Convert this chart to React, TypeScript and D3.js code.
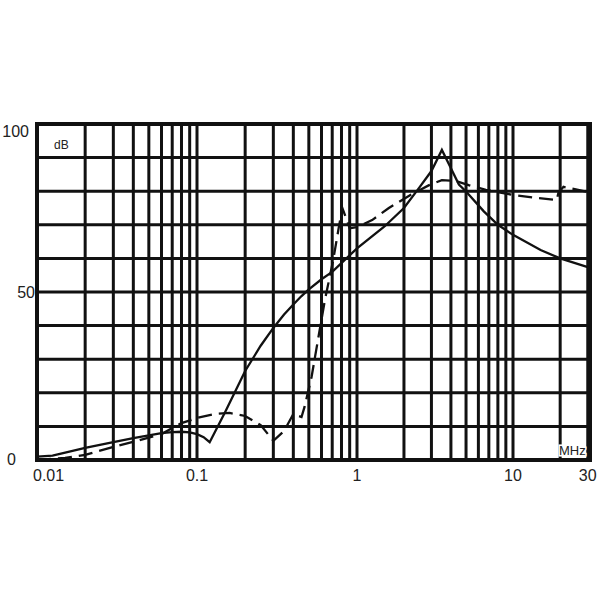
import React from "react";
import * as d3 from "d3";

// solid curve
const solidFreq = [0.01, 0.0125, 0.015, 0.02, 0.03, 0.04, 0.05, 0.06, 0.07, 0.08, 0.09, 0.1, 0.11, 0.12, 0.15, 0.2, 0.25, 0.3, 0.35, 0.4, 0.45, 0.5, 0.6, 0.7, 1, 1.5, 2, 2.5, 3, 3.5, 4, 4.5, 5, 6.5, 8, 10, 15, 20, 30];
const solidDb = [1, 1.3, 2.2, 3.6, 5.3, 6.5, 7.3, 8.0, 8.3, 8.4, 8.2, 7.7, 6.8, 5.3, 14.3, 26.5, 34, 39.3, 43.3, 46.3, 48.8, 50.8, 53.8, 56, 63, 69.5, 75, 81, 86, 92.3, 86.8, 82, 79.9, 74, 70, 67, 62.5, 60, 57.4];

// dashed curve
const dashFreq = [0.01, 0.015, 0.02, 0.03, 0.04, 0.06, 0.08, 0.1, 0.13, 0.16, 0.2, 0.25, 0.3, 0.35, 0.4, 0.45, 0.47, 0.52, 0.58, 0.63, 0.71, 0.77, 0.81, 0.85, 0.9, 1, 1.25, 1.6, 2.2, 2.9, 3.5, 4.3, 5.2, 6.7, 10, 14, 19, 19.5, 21, 30];
const dashDb = [0, 0.6, 1.5, 3.9, 5.4, 7.7, 11, 12.5, 13.7, 14, 13.1, 10.4, 5.7, 8.6, 13.7, 12.8, 15.8, 24.7, 37.8, 47.6, 59.5, 69.3, 75, 72.3, 69, 69.3, 71.4, 75, 78.9, 81.8, 83.3, 83, 81.8, 80.4, 78.9, 78, 77.4, 79.5, 81.3, 79.8];

const xTickValues = [0.01, 0.1, 1, 10, 30];
const xTickLabels = ["0.01", "0.1", "1", "10", "30"];
const yTickValues = [0, 50, 100];
const yTickLabels = ["0", "50", "100"];

const left = 37, right = 590, top = 124, bottom = 460;
const font = "'Liberation Sans', Arial, sans-serif";

const App = () => {
  // decades are not quite equal in the drawing, so piecewise log
  const x = d3.scaleLog().domain([0.01, 0.1, 1, 10, 31]).range([left, 197, 357, 513, right]);
  const y = d3.scaleLinear().domain([0, 100]).range([bottom, top]);

  // vertical grid: 1..9 per decade, up to 30
  const gridX: number[] = [];
  [0.01, 0.1, 1, 10].forEach((d) => {
    for (let m = 1; m <= 9; m++) {
      const f = +(m * d).toPrecision(3);
      if (f <= 30) gridX.push(f);
    }
  });
  const gridY = d3.range(0, 101, 10);

  const mk = d3.line<[number, number]>()
    .x((d) => x(d[0]))
    .y((d) => y(d[1]));
  const solidPath = mk(solidFreq.map((f, i) => [f, solidDb[i]]));
  const dashPath = mk(dashFreq.map((f, i) => [f, dashDb[i]]));

  // y label offsets to follow the drawing
  const yLabelX: Record<string, number> = { "0": 16, "50": 35, "100": 29 };
  const yLabelDy: Record<string, number> = { "0": 5, "50": 6, "100": 13 };

  return (
    <svg width={600} height={600} style={{ position: "absolute", left: 0, top: 0, background: "#fff" }}>
      <rect x={0} y={0} width={600} height={600} fill="#fff" />
      <g stroke="#111" strokeWidth={3}>
        {gridX.map((f) => (
          <line key={"v" + f} x1={x(f)} x2={x(f)} y1={top} y2={bottom} />
        ))}
        {gridY.map((v) => (
          <line key={"h" + v} x1={left} x2={right} y1={y(v)} y2={y(v)} />
        ))}
      </g>
      <rect x={left} y={top} width={right - left} height={bottom - top} fill="none" stroke="#111" strokeWidth={4} />

      <text x={54} y={149} fontFamily={font} fontSize={12} fill="#222">dB</text>
      <text x={559} y={455} fontFamily={font} fontSize={13} fill="#222"
        stroke="#fff" strokeWidth={3} style={{ paintOrder: "stroke" }}>MHz</text>

      <path d={dashPath || ""} fill="none" stroke="#111" strokeWidth={2.3} strokeDasharray="14,7" />
      <path d={solidPath || ""} fill="none" stroke="#111" strokeWidth={2.3} />

      {xTickValues.map((v, i) => (
        <text key={"xl" + v} x={i === 0 ? 33 : x(v)} y={481} fontFamily={font} fontSize={16}
          textAnchor={i === 0 ? "start" : "middle"} fill="#222">{xTickLabels[i]}</text>
      ))}
      {yTickValues.map((v, i) => (
        <text key={"yl" + v} x={yLabelX[yTickLabels[i]]} y={y(v) + yLabelDy[yTickLabels[i]]} fontFamily={font}
          fontSize={16} textAnchor="end" fill="#222">{yTickLabels[i]}</text>
      ))}
    </svg>
  );
};

export default App;
